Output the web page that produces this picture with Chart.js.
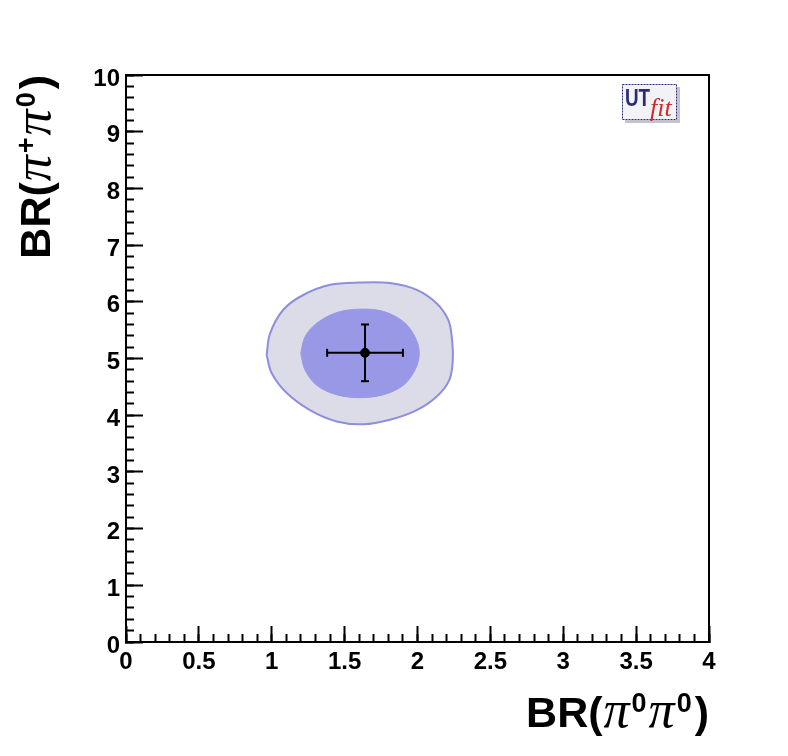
<!DOCTYPE html>
<html>
<head>
<meta charset="utf-8">
<script src="https://cdn.jsdelivr.net/npm/chart.js@4.4.0/dist/chart.umd.min.js"></script>
<style>
  html, body { margin: 0; padding: 0; background: #fff; }
  canvas { display: block; }
</style>
</head>
<body>
<canvas id="brPlot" width="788" height="756"></canvas>
<script>
// 95% region (outer contour)
var outerX = [0.965, 0.988, 1.079, 1.216, 1.400, 1.605, 1.811, 1.995, 2.132, 2.211, 2.235, 2.242, 2.218, 2.132, 1.995, 1.811, 1.628, 1.446, 1.262, 1.103, 1.000];
var outerY = [5.06, 5.44, 5.86, 6.12, 6.30, 6.34, 6.33, 6.21, 5.97, 5.68, 5.38, 4.97, 4.62, 4.33, 4.09, 3.92, 3.84, 3.89, 4.09, 4.39, 4.74];
// 68% region (inner contour)
var innerX = [1.199, 1.228, 1.308, 1.446, 1.605, 1.765, 1.903, 1.983, 2.012, 1.983, 1.903, 1.765, 1.605, 1.446, 1.308, 1.228];
var innerY = [5.09, 5.38, 5.62, 5.81, 5.87, 5.83, 5.65, 5.38, 5.09, 4.80, 4.53, 4.36, 4.31, 4.36, 4.53, 4.80];
// measurement with errors
var measX = [1.64];
var measY = [5.1];
var measErrX = [0.26];
var measErrY = [0.5];
// labelled ticks
var xMajor = [0, 0.5, 1, 1.5, 2, 2.5, 3, 3.5, 4];
var yMajor = [0, 1, 2, 3, 4, 5, 6, 7, 8, 9, 10];

function toPoints(xs, ys) {
    var pts = xs.map(function(x, i) { return {x: x, y: ys[i]}; });
    pts.push(pts[0]);
    return pts;
}

function drawRich(ctx, parts, x, y) {
    var w = 0;
    parts.forEach(function(p) { ctx.font = p.font; p.w = ctx.measureText(p.t).width + (p.gap || 0); w += p.w; });
    var cx = x - w;
    parts.forEach(function(p) {
        ctx.font = p.font;
        ctx.fillText(p.t, cx, y + (p.dy || 0));
        cx += p.w;
    });
}

var mainFont = 'bold 43px "Liberation Sans"';
var piFont = 'italic 52px "Liberation Serif"';
var supFont = 'bold 27px "Liberation Sans"';

function titleParts(sup1) {
    return [
        {t: 'BR(', font: mainFont, gap: 1},
        {t: 'π', font: piFont, gap: 2},
        {t: sup1, font: supFont, dy: -15, gap: 2},
        {t: 'π', font: piFont, gap: 2},
        {t: '0', font: supFont, dy: -15, gap: 3},
        {t: ')', font: mainFont}
    ];
}

var extras = {
    id: 'extras',
    afterDraw: function(chart) {
        var ctx = chart.ctx;
        var a = chart.chartArea;
        ctx.save();
        // frame top / right
        ctx.strokeStyle = '#000';
        ctx.lineWidth = 2;
        ctx.beginPath();
        ctx.moveTo(a.left, a.top);
        ctx.lineTo(a.right, a.top);
        ctx.lineTo(a.right, a.bottom);
        ctx.stroke();

        // axis titles
        ctx.fillStyle = '#000';
        ctx.textAlign = 'left';
        ctx.textBaseline = 'alphabetic';
        drawRich(ctx, titleParts('0'), a.right, 727);

        ctx.save();
        ctx.translate(50, a.top);
        ctx.rotate(-Math.PI / 2);
        drawRich(ctx, titleParts('+'), 0, 0);
        ctx.restore();

        // UTfit logo
        ctx.fillStyle = '#c4c4d0';
        ctx.fillRect(625, 87, 55, 36);
        ctx.fillStyle = '#f3f3f7';
        ctx.fillRect(622, 84, 55, 36);
        ctx.strokeStyle = '#2e2e6e';
        ctx.lineWidth = 1;
        ctx.setLineDash([2, 1]);
        ctx.strokeRect(622.5, 84.5, 54, 35);
        ctx.setLineDash([]);
        ctx.save();
        ctx.translate(625, 106);
        ctx.scale(0.82, 1);
        ctx.fillStyle = '#2c2c70';
        ctx.font = 'bold 23px "Liberation Sans"';
        ctx.fillText('UT', 0, 0);
        ctx.restore();
        ctx.fillStyle = '#d02a2a';
        ctx.font = 'italic 26px "Liberation Serif"';
        ctx.fillText('fit', 650, 116);
        ctx.restore();
    }
};

var tickFont = {family: '"Liberation Sans"', weight: 'bold', size: 24};

new Chart(document.getElementById('brPlot').getContext('2d'), {
    type: 'line',
    data: {
        datasets: [
            {
                label: 'measurement',
                data: [{x: measX[0], y: measY[0]}],
                showLine: false,
                pointRadius: 4.5,
                pointBackgroundColor: '#000',
                pointBorderColor: '#000'
            },
            {
                label: 'errX',
                data: [{x: measX[0] - measErrX[0], y: measY[0]}, {x: measX[0] + measErrX[0], y: measY[0]}],
                borderColor: '#000',
                borderWidth: 2,
                pointStyle: 'line',
                pointRotation: 90,
                pointRadius: 4,
                pointBorderWidth: 2,
                pointBorderColor: '#000'
            },
            {
                label: 'errY',
                data: [{x: measX[0], y: measY[0] - measErrY[0]}, {x: measX[0], y: measY[0] + measErrY[0]}],
                borderColor: '#000',
                borderWidth: 2,
                pointStyle: 'line',
                pointRotation: 0,
                pointRadius: 4,
                pointBorderWidth: 2,
                pointBorderColor: '#000'
            },
            {
                label: '68%',
                data: toPoints(innerX, innerY),
                fill: 'shape',
                backgroundColor: '#9898e6',
                borderColor: '#9898e6',
                borderWidth: 1,
                pointRadius: 0,
                tension: 0.35
            },
            {
                label: '95%',
                data: toPoints(outerX, outerY),
                fill: 'shape',
                backgroundColor: '#dcdce8',
                borderColor: '#8e8ede',
                borderWidth: 2,
                pointRadius: 0,
                tension: 0.35
            }
        ]
    },
    options: {
        responsive: false,
        animation: false,
        devicePixelRatio: 1,
        events: [],
        layout: { padding: {top: 75, right: 79, left: 0, bottom: 0} },
        plugins: { legend: {display: false}, tooltip: {enabled: false} },
        scales: {
            x: {
                type: 'linear', position: 'bottom', min: 0, max: 4, weight: 1,
                afterFit: function(s) { s.height = 114; },
                afterBuildTicks: function(s) { s.ticks = xMajor.map(function(v) { return {value: v}; }); },
                grid: {drawOnChartArea: false, tickLength: -16, tickWidth: 2, tickColor: '#000'},
                border: {color: '#000', width: 2},
                ticks: {autoSkip: false, maxRotation: 0, padding: 22, color: '#000', font: tickFont,
                    callback: function(v) { return String(v); }}
            },
            xMinor: {
                type: 'linear', axis: 'x', position: 'bottom', min: 0, max: 4, weight: 0,
                afterFit: function(s) { s.height = 0; },
                grid: {drawOnChartArea: false, tickLength: -8, tickWidth: 2, tickColor: '#000'},
                border: {color: '#000', width: 2},
                ticks: {display: false, stepSize: 0.1}
            },
            y: {
                type: 'linear', position: 'left', min: 0, max: 10, weight: 1,
                afterFit: function(s) { s.width = 126; },
                afterBuildTicks: function(s) { s.ticks = yMajor.map(function(v) { return {value: v}; }); },
                grid: {drawOnChartArea: false, tickLength: -17, tickWidth: 2, tickColor: '#000'},
                border: {color: '#000', width: 2},
                ticks: {autoSkip: false, padding: 23, labelOffset: 4, color: '#000', font: tickFont,
                    callback: function(v) { return String(v); }}
            },
            yMinor: {
                type: 'linear', axis: 'y', position: 'left', min: 0, max: 10, weight: 0,
                afterFit: function(s) { s.width = 0; },
                grid: {drawOnChartArea: false, tickLength: -8, tickWidth: 2, tickColor: '#000'},
                border: {color: '#000', width: 2},
                ticks: {display: false, stepSize: 0.2}
            }
        }
    },
    plugins: [extras]
});
</script>
</body>
</html>
